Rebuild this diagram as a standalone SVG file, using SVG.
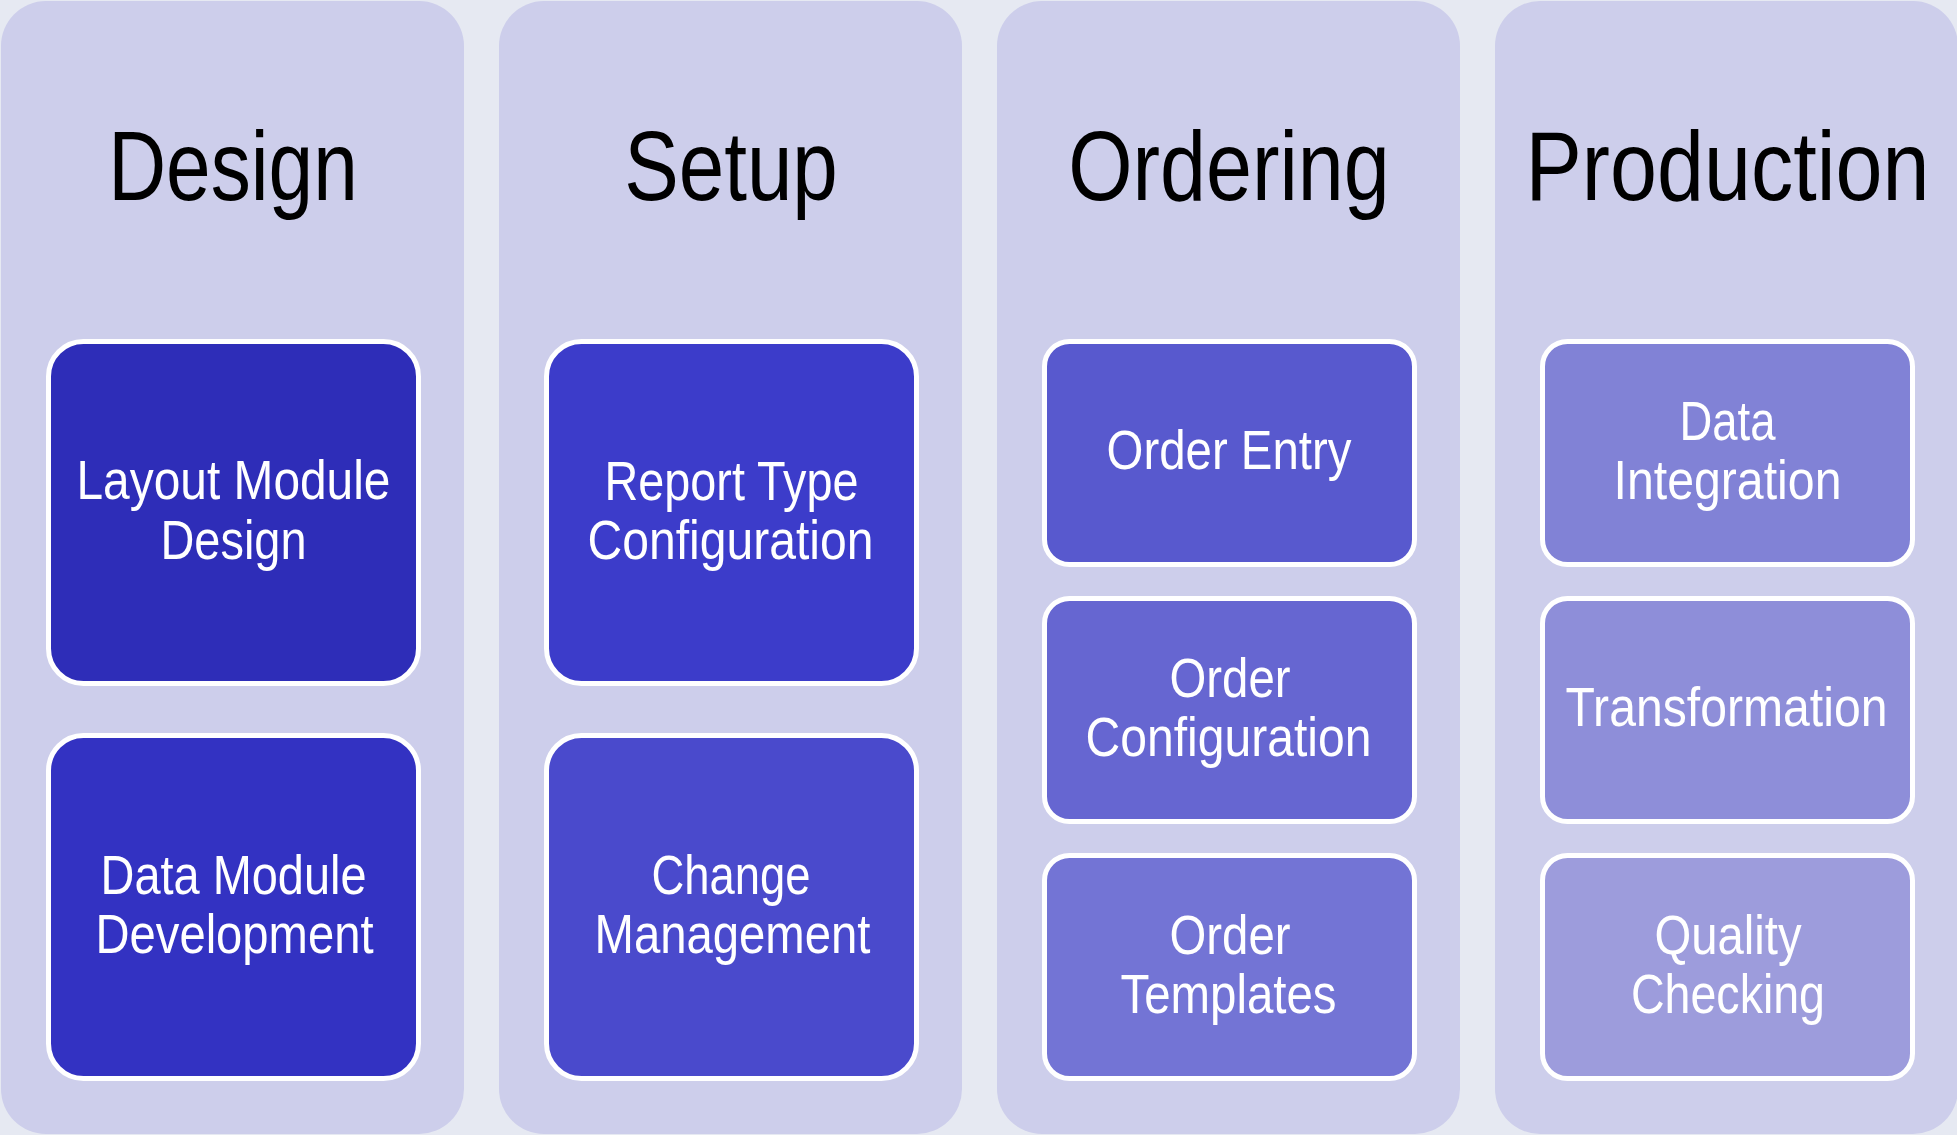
<svg xmlns="http://www.w3.org/2000/svg" width="1957" height="1135" viewBox="0 0 1957 1135">
<style>
.lane{fill:#CDCEEB;}
.box{stroke:#FFFFFF;stroke-width:5;}
.title{font-family:"Liberation Sans Narrow","Liberation Sans",Arial,sans-serif;font-size:99px;fill:#000000;text-anchor:middle;}
.lbl{font-family:"Liberation Sans Narrow","Liberation Sans",Arial,sans-serif;font-size:56px;fill:#FFFFFF;text-anchor:middle;}
</style>
<rect x="0" y="0" width="1957" height="1135" fill="#E6E9F2"/>
<g id="col-design">
<rect class="lane" x="1" y="1" width="463" height="1133" rx="45"/>
<text class="title" transform="translate(233,200) scale(0.8,1)" x="0" y="0" textLength="312" lengthAdjust="spacingAndGlyphs">Design</text>
</g>
<g id="col-setup">
<rect class="lane" x="499" y="1" width="463" height="1133" rx="45"/>
<text class="title" transform="translate(731,200) scale(0.8,1)" x="0" y="0" textLength="267" lengthAdjust="spacingAndGlyphs">Setup</text>
</g>
<g id="col-ordering">
<rect class="lane" x="997" y="1" width="463" height="1133" rx="45"/>
<text class="title" transform="translate(1229,200) scale(0.8,1)" x="0" y="0" textLength="402" lengthAdjust="spacingAndGlyphs">Ordering</text>
</g>
<g id="col-production">
<rect class="lane" x="1495" y="1" width="463" height="1133" rx="45"/>
<text class="title" transform="translate(1727.5,200) scale(0.8,1)" x="0" y="0" textLength="505" lengthAdjust="spacingAndGlyphs">Production</text>
</g>
<g id="n-layout">
<rect class="box" x="48.5" y="341.5" width="370" height="342" rx="35" fill="#2E2DB8"/>
<text class="lbl" x="233.5" y="499" textLength="314" lengthAdjust="spacingAndGlyphs">Layout Module</text>
<text class="lbl" x="233.5" y="559" textLength="146" lengthAdjust="spacingAndGlyphs">Design</text>
</g>
<g id="n-datamodule">
<rect class="box" x="48.5" y="735.5" width="370" height="343" rx="35" fill="#3332C2"/>
<text class="lbl" x="233.5" y="894" textLength="266" lengthAdjust="spacingAndGlyphs">Data Module</text>
<text class="lbl" x="234.5" y="953" textLength="278" lengthAdjust="spacingAndGlyphs">Development</text>
</g>
<g id="n-reporttype">
<rect class="box" x="546.5" y="341.5" width="370" height="342" rx="35" fill="#3C3CCA"/>
<text class="lbl" x="731.5" y="500" textLength="254" lengthAdjust="spacingAndGlyphs">Report Type</text>
<text class="lbl" x="730.5" y="559" textLength="286" lengthAdjust="spacingAndGlyphs">Configuration</text>
</g>
<g id="n-change">
<rect class="box" x="546.5" y="735.5" width="370" height="343" rx="35" fill="#4A4ACC"/>
<text class="lbl" x="731" y="894" textLength="159" lengthAdjust="spacingAndGlyphs">Change</text>
<text class="lbl" x="732.5" y="953" textLength="276" lengthAdjust="spacingAndGlyphs">Management</text>
</g>
<g id="n-orderentry">
<rect class="box" x="1044.5" y="341.5" width="370" height="223" rx="25" fill="#5859CE"/>
<text class="lbl" x="1229" y="469" textLength="245" lengthAdjust="spacingAndGlyphs">Order Entry</text>
</g>
<g id="n-orderconfig">
<rect class="box" x="1044.5" y="598.5" width="370" height="223" rx="25" fill="#6666D1"/>
<text class="lbl" x="1230" y="697" textLength="121" lengthAdjust="spacingAndGlyphs">Order</text>
<text class="lbl" x="1228.5" y="756" textLength="286" lengthAdjust="spacingAndGlyphs">Configuration</text>
</g>
<g id="n-ordertemplates">
<rect class="box" x="1044.5" y="855.5" width="370" height="223" rx="25" fill="#7374D5"/>
<text class="lbl" x="1230" y="954" textLength="121" lengthAdjust="spacingAndGlyphs">Order</text>
<text class="lbl" x="1228.5" y="1013" textLength="216" lengthAdjust="spacingAndGlyphs">Templates</text>
</g>
<g id="n-dataintegration">
<rect class="box" x="1542.5" y="341.5" width="370" height="223" rx="25" fill="#8182D6"/>
<text class="lbl" x="1727.5" y="440" textLength="96" lengthAdjust="spacingAndGlyphs">Data</text>
<text class="lbl" x="1727.5" y="499" textLength="228" lengthAdjust="spacingAndGlyphs">Integration</text>
</g>
<g id="n-transformation">
<rect class="box" x="1542.5" y="598.5" width="370" height="223" rx="25" fill="#8E8ED9"/>
<text class="lbl" x="1726.5" y="726" textLength="322" lengthAdjust="spacingAndGlyphs">Transformation</text>
</g>
<g id="n-quality">
<rect class="box" x="1542.5" y="855.5" width="370" height="223" rx="25" fill="#9D9CDC"/>
<text class="lbl" x="1728" y="954" textLength="147" lengthAdjust="spacingAndGlyphs">Quality</text>
<text class="lbl" x="1728" y="1013" textLength="194" lengthAdjust="spacingAndGlyphs">Checking</text>
</g>
<g id="connectors"/>
</svg>
